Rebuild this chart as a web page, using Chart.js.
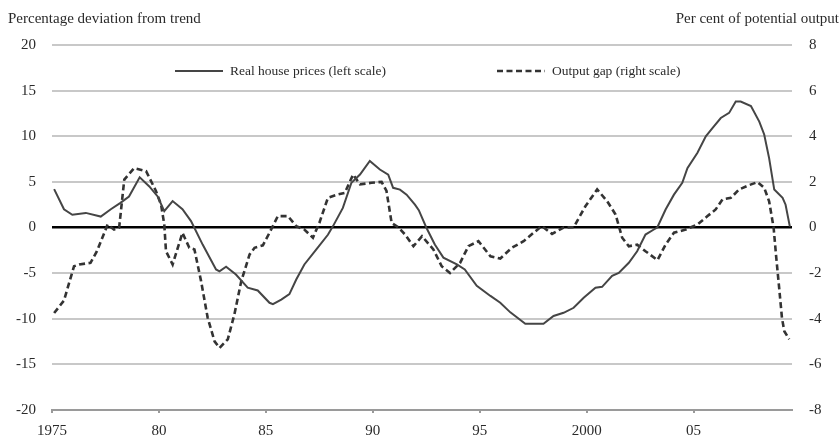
<!DOCTYPE html>
<html>
<head>
<meta charset="utf-8">
<script src="https://cdn.jsdelivr.net/npm/chart.js@4"></script>
<style>
  html, body { margin: 0; padding: 0; background: #fff; }
  #wrap { width: 839px; height: 441px; position: relative; }
</style>
</head>
<body>
<div id="wrap"><canvas id="chart"></canvas></div>
<script>
'use strict';

/* ---- data ---- */
const houseDates = [1975.1, 1975.56, 1975.95, 1976.58, 1977.28, 1977.75, 1978.2, 1978.6, 1979.1, 1979.55,
  1979.94, 1980.25, 1980.64, 1981.1, 1981.5, 1982.05, 1982.67, 1982.83, 1983.14, 1983.6,
  1984.15, 1984.62, 1985.17, 1985.33, 1985.72, 1986.1, 1986.42, 1986.8, 1987.36, 1987.9,
  1988.14, 1988.6, 1989.0, 1989.4, 1989.86, 1990.33, 1990.72, 1990.95, 1991.27, 1991.58,
  1991.97, 1992.15, 1992.5, 1992.9, 1993.3, 1993.93, 1994.3, 1994.86, 1995.5, 1995.96,
  1996.43, 1997.13, 1997.98, 1998.45, 1998.92, 1999.39, 1999.86, 2000.41, 2000.72, 2001.19,
  2001.5, 2001.97, 2002.36, 2002.75, 2003.14, 2003.3, 2003.69, 2004.08, 2004.47, 2004.71,
  2005.18, 2005.57, 2005.88, 2006.27, 2006.66, 2006.97, 2007.2, 2007.68, 2008.07, 2008.3,
  2008.53, 2008.77, 2009.16, 2009.3, 2009.5];
const houseValues = [4.2, 2.0, 1.4, 1.6, 1.2, 2.0, 2.7, 3.4, 5.5, 4.5,
  3.4, 1.8, 2.9, 2.0, 0.7, -1.9, -4.6, -4.8, -4.3, -5.15,
  -6.6, -6.9, -8.25, -8.4, -7.9, -7.3, -5.7, -4.05, -2.4, -0.8,
  0.15, 2.15, 4.9, 5.8, 7.3, 6.35, 5.8, 4.35, 4.15, 3.6,
  2.5, 1.9, 0.0, -1.86, -3.3, -4.05, -4.6, -6.4, -7.5, -8.25,
  -9.3, -10.55, -10.55, -9.7, -9.35, -8.8, -7.7, -6.6, -6.5, -5.3,
  -4.97, -3.87, -2.6, -0.77, -0.22, 0.0, 1.97, 3.6, 4.9, 6.5,
  8.2, 10.0, 10.9, 12.0, 12.56, 13.8, 13.8, 13.3, 11.6, 10.2,
  7.6, 4.16, 3.25, 2.5, 0.1];

const gapDates = [1975.1, 1975.56, 1976.03, 1976.27, 1976.8, 1977.1, 1977.6, 1977.9, 1978.14, 1978.38,
  1978.84, 1979.4, 1979.86, 1980.1, 1980.25, 1980.33, 1980.64, 1981.1, 1981.42, 1981.66,
  1981.97, 1982.28, 1982.6, 1982.83, 1983.22, 1983.53, 1983.85, 1984.24, 1984.47, 1984.86,
  1985.17, 1985.56, 1986.03, 1986.42, 1986.8, 1987.2, 1987.5, 1987.9, 1988.37, 1988.69,
  1989.08, 1989.4, 1989.94, 1990.41, 1990.64, 1990.88, 1991.2, 1991.5, 1991.9, 1992.3,
  1992.83, 1993.22, 1993.61, 1994.08, 1994.47, 1994.94, 1995.5, 1995.96, 1996.5, 1997.05,
  1997.52, 1997.9, 1998.38, 1998.92, 1999.39, 1999.94, 2000.49, 2000.96, 2001.35, 2001.66,
  2001.97, 2002.36, 2002.75, 2003.31, 2003.69, 2004.08, 2004.63, 2005.18, 2005.65, 2006.03,
  2006.35, 2006.74, 2007.13, 2007.6, 2007.99, 2008.3, 2008.53, 2008.74, 2008.85, 2009.0,
  2009.13, 2009.24, 2009.47];
const gapValues = [-3.75, -3.2, -1.7, -1.62, -1.55, -1.04, 0.13, -0.09, 0.0, 2.1,
  2.6, 2.47, 1.6, 1.0, 0.13, -1.04, -1.62, -0.23, -0.89, -0.96,
  -2.35, -3.96, -4.99, -5.28, -4.9, -3.8, -2.35, -1.18, -0.89, -0.78,
  -0.23, 0.5, 0.5, 0.06, -0.09, -0.45, 0.2, 1.3, 1.45, 1.52,
  2.32, 1.89, 1.96, 2.0, 1.6, 0.2, 0.0, -0.3, -0.82, -0.38,
  -0.96, -1.7, -1.99, -1.55, -0.82, -0.6, -1.26, -1.36, -0.89, -0.6,
  -0.23, 0.06, -0.28, 0.0, 0.01, 0.93, 1.67, 1.15, 0.57, -0.45,
  -0.82, -0.75, -1.04, -1.43, -0.75, -0.23, -0.09, 0.13, 0.5, 0.79,
  1.23, 1.3, 1.67, 1.86, 1.99, 1.74, 1.15, 0.0, -1.18, -2.65,
  -3.96, -4.55, -4.9];

const yearTicks = [1975, 1980, 1985, 1990, 1995, 2000, 2005];
const yearLabels = ['1975', '80', '85', '90', '95', '2000', '05'];

const seriesNames = ['Real house prices (left scale)', 'Output gap (right scale)'];
const leftTitle = 'Percentage deviation from trend';
const rightTitle = 'Per cent of potential output';

/* ---- styles ---- */
const SERIF = '"Liberation Serif", "Times New Roman", serif';
const GRID_GREY = '#c8c8c8';
const TEXT_GREY = '#2a2a2a';

const pts = (xs, ys) => xs.map((x, i) => ({ x, y: ys[i] }));

/* axis titles at the top corners */
const titlesPlugin = {
  id: 'axisTitles',
  afterDraw(chart) {
    const ctx = chart.ctx;
    ctx.save();
    ctx.font = '15px ' + SERIF;
    ctx.fillStyle = TEXT_GREY;
    ctx.textBaseline = 'middle';
    ctx.textAlign = 'left';
    ctx.fillText(leftTitle, 8, 19);
    ctx.textAlign = 'right';
    ctx.fillText(rightTitle, chart.width, 19);
    ctx.restore();
  },
};

/* legend drawn inside the plot, one item on each half */
const legendPlugin = {
  id: 'innerLegend',
  afterDatasetsDraw(chart) {
    const ctx = chart.ctx;
    const a = chart.chartArea;
    const y = a.top + 26;
    const starts = [a.left + 123, a.left + 445];
    ctx.save();
    ctx.font = '13.5px ' + SERIF;
    ctx.textBaseline = 'middle';
    ctx.textAlign = 'left';
    chart.data.datasets.forEach((ds, i) => {
      const x0 = starts[i];
      ctx.strokeStyle = ds.borderColor;
      ctx.lineWidth = ds.borderWidth;
      ctx.setLineDash(ds.borderDash || []);
      ctx.beginPath();
      ctx.moveTo(x0, y);
      ctx.lineTo(x0 + 48, y);
      ctx.stroke();
      ctx.setLineDash([]);
      ctx.fillStyle = TEXT_GREY;
      ctx.fillText(ds.label, x0 + 55, y);
    });
    ctx.restore();
  },
};

new Chart(document.getElementById('chart'), {
  type: 'line',
  data: {
    datasets: [{
      label: seriesNames[0],
      data: pts(houseDates, houseValues),
      yAxisID: 'y',
      borderColor: '#454545',
      borderWidth: 2,
      pointRadius: 0,
      tension: 0,
    }, {
      label: seriesNames[1],
      data: pts(gapDates, gapValues),
      yAxisID: 'y2',
      borderColor: '#333333',
      borderWidth: 2.6,
      borderDash: [6, 3.5],
      pointRadius: 0,
      tension: 0,
    }],
  },
  options: {
    responsive: true,
    maintainAspectRatio: false,
    animation: false,
    layout: { padding: { top: 45, left: 0, right: 0, bottom: 0 } },
    plugins: {
      legend: { display: false },
      tooltip: { enabled: false },
    },
    scales: {
      x: {
        type: 'linear',
        min: 1975,
        max: 2009.6,
        afterBuildTicks: (s) => { s.ticks = yearTicks.map((v) => ({ value: v })); },
        afterFit: (s) => { s.height = 31; },
        ticks: {
          callback: (v) => yearLabels[yearTicks.indexOf(v)],
          font: { family: SERIF, size: 15 },
          color: TEXT_GREY,
          padding: 9,
          maxRotation: 0,
        },
        grid: { drawOnChartArea: false, drawTicks: true, tickLength: 3, color: '#9a9a9a', lineWidth: 2 },
        border: { display: true, color: '#9a9a9a', width: 2 },
      },
      y: {
        position: 'left',
        min: -20,
        max: 20,
        afterFit: (s) => { s.width = 52; },
        ticks: {
          stepSize: 5,
          font: { family: SERIF, size: 15 },
          color: TEXT_GREY,
          padding: 16,
        },
        grid: {
          drawTicks: false,
          color: (c) => (c.tick && c.tick.value === 0 ? '#000000' : (c.tick && c.tick.value === -20 ? 'rgba(0,0,0,0)' : GRID_GREY)),
          lineWidth: (c) => (c.tick && c.tick.value === 0 ? 2.6 : 2),
        },
        border: { display: false },
      },
      y2: {
        position: 'right',
        min: -8,
        max: 8,
        afterFit: (s) => { s.width = 47; },
        ticks: {
          stepSize: 2,
          font: { family: SERIF, size: 15 },
          color: TEXT_GREY,
          padding: 17,
        },
        grid: { drawOnChartArea: false, drawTicks: false },
        border: { display: false },
      },
    },
  },
  plugins: [titlesPlugin, legendPlugin],
});
</script>
</body>
</html>
